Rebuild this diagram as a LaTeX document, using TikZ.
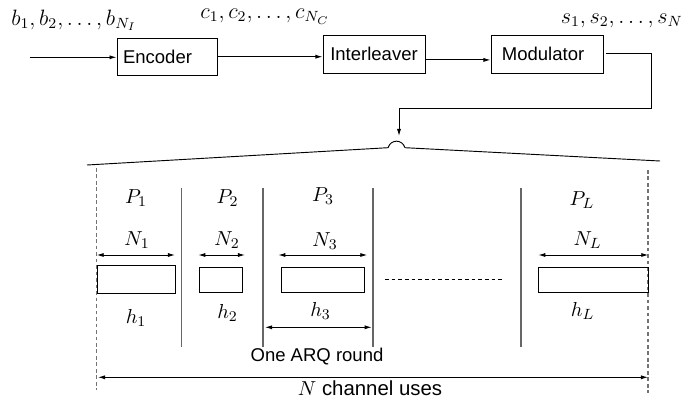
\documentclass[tikz,border=0pt]{standalone}
\usepackage[no-math]{fontspec}
\newfontfamily\arialfont{Liberation Sans}
\usetikzlibrary{arrows.meta}
\begin{document}
\begin{tikzpicture}[x=0.54pt,y=-0.54pt,
  every node/.style={inner sep=0pt},
  blk/.style={draw, line width=0.5pt, font=\arialfont\fontsize{10}{12}\selectfont, align=left},
  txt/.style={font=\arialfont\fontsize{10}{12}\selectfont, anchor=base},
  lbl/.style={font=\fontsize{11}{13}\selectfont, anchor=base},
  toplbl/.style={font=\fontsize{12}{14}\selectfont, anchor=base},
  wire/.style={line width=0.5pt},
  tip/.tip={Latex[length=3.8pt,width=2.2pt]},
  flow/.style={wire, -tip},
  dim/.style={wire, tip-tip},
  sep/.style={line width=0.8pt, black!60},
  bound/.style={line width=0.6pt, black!55, dash pattern=on 2pt off 1.5pt},
  slot/.style={draw, line width=0.5pt},
]
\useasboundingbox (0,0) rectangle (696,405);

% transmitter chain
\node[blk, text width=47.5pt, inner xsep=3.24pt, minimum height=19.8pt] (enc) at (167,56.7) {Encoder};
\node[blk, minimum width=55.1pt, minimum height=20.5pt, align=center] (intl) at (374,54) {Interleaver};
\node[blk, text width=48.7pt, inner xsep=5.9pt, minimum height=20.5pt] (mod) at (547,54) {Modulator};

\node[toplbl] (bseq) at (74,25) {$b_1, b_2, \ldots, b_{N_I}$};
\node[toplbl] (cseq) at (265,18.3) {$c_1, c_2, \ldots, c_{N_C}$};
\node[toplbl] (sseq) at (621.7,23) {$s_1, s_2, \ldots, s_N$};

\coordinate (src) at (30,57.3);
\coordinate (bend) at (651,108);
\coordinate (hump) at (399,136);
\draw[flow] (src) -- (src -| enc.west);
\draw[flow] (enc.east) -- (enc.east -| intl.west);
\draw[flow] ([yshift=-3.2pt]intl.east) -- ([yshift=-3.2pt]intl.east -| mod.west);
\draw[flow] ([xshift=1.6pt,yshift=0.54pt]mod.east) -| (bend) -| (hump);

% brace-like fan-out over the frame
\draw[wire] (87,165) -- (388,147.7) .. controls (391,139) and (402,139) .. (405,147.7) -- (660,161);

% frame boundaries
\draw[bound] (96.5,168) -- (96.5,390);
\draw[bound] (648,170) -- (648,393);

% ARQ round separators
\foreach \xs in {181.7,263,373,521}
  \draw[sep] (\xs,188) -- (\xs,347);

% packets
\draw[slot] (97,265) rectangle (175,293);
\draw[slot] (199,267) rectangle (242,292);
\draw[slot] (281,267) rectangle (364,292);
\draw[slot] (538,267) rectangle (648,292);
\draw[wire, dash pattern=on 2pt off 1.6pt] (385,279) -- (503,279);

% packet lengths
\draw[dim] (96.7,255) -- (175,255);
\draw[dim] (198.3,255) -- (245,255);
\draw[dim] (278.3,255) -- (367.3,255);
\draw[dim] (538.3,255) -- (648.3,255);
\draw[dim] (265,327.3) -- (371.7,327.3);
\draw[dim] (98,377.3) -- (648,377.3);

% labels
\node[lbl] (p1) at (136,203.3) {$P_1$};
\node[lbl] (p2) at (227.5,203) {$P_2$};
\node[lbl] (p3) at (323,201.7) {$P_3$};
\node[lbl] (pl) at (582,205) {$P_L$};
\node[lbl] (n1) at (137,245) {$N_1$};
\node[lbl] (n2) at (227,245) {$N_2$};
\node[lbl] (n3) at (325,246) {$N_3$};
\node[lbl] (nl) at (587.5,245) {$N_L$};
\node[lbl] (h1) at (136,323) {$h_1$};
\node[lbl] (h2) at (227.5,318) {$h_2$};
\node[lbl] (h3) at (320.5,316.7) {$h_3$};
\node[lbl] (hl) at (582.5,316.7) {$h_L$};
\node[txt] (arq) at (317,361.7) {One ARQ round};
\node[txt, font=\arialfont\fontsize{11}{13}\selectfont] (uses) at (370,395) {{\fontsize{11}{13}\selectfont$N$} channel uses};
\end{tikzpicture}
\end{document}
